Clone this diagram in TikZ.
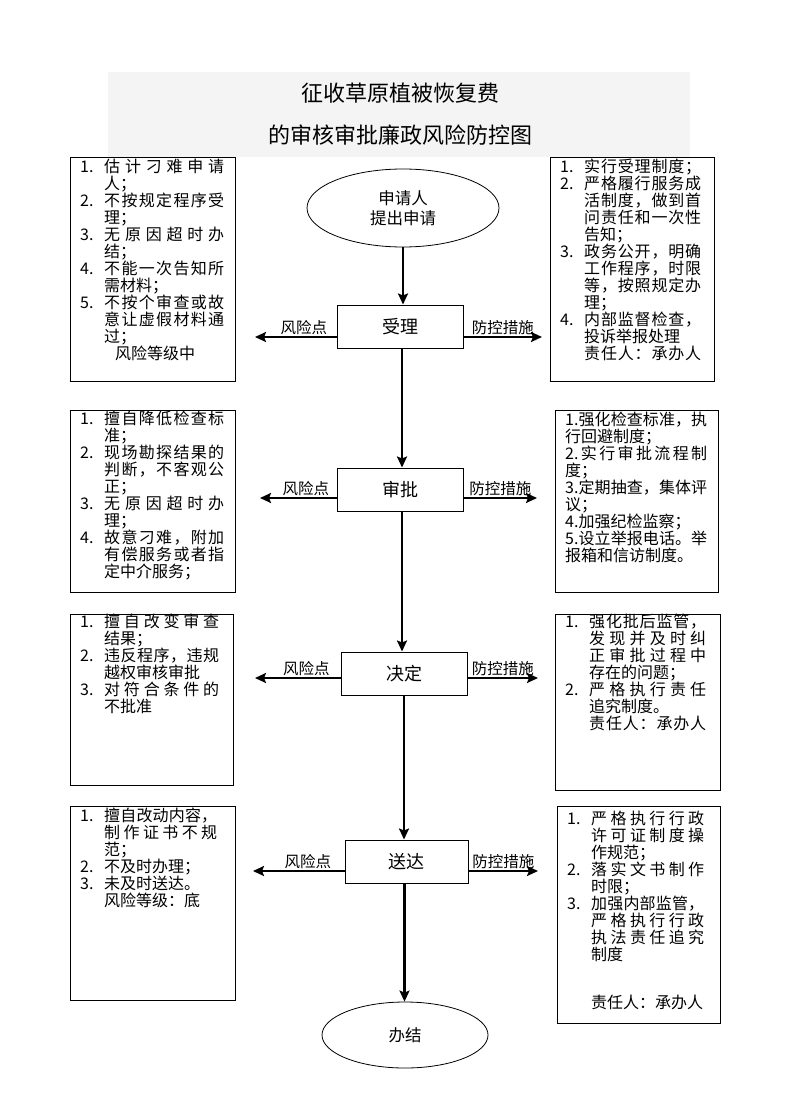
\documentclass[tikz,border=0pt]{standalone}
\usepackage{fontspec}
\setmainfont{Noto Sans CJK SC}
\usetikzlibrary{arrows.meta,shapes.geometric}
\newlength\tw
\newlength\numw
\setlength\numw{24pt}
\def\endspread{ENDSPREAD}
\def\spreadloop#1{\ifx\endspread#1\else#1\hskip0pt plus1fil\relax\expandafter\spreadloop\fi}
\newcommand\J[1]{\hbox to\tw{\spreadloop#1\endspread\unskip}}
\newcommand\N[1]{\makebox[\numw][l]{#1}}
\newcommand\I{\hspace*{\numw}}
\definecolor{bandgray}{HTML}{F4F4F4}
\tikzset{
  txbox/.style={draw, line width=1.3pt, anchor=north west, inner sep=0pt},
  txt/.style={anchor=north west, inner sep=0pt, align=left, font=\fontsize{16}{17}\selectfont},
  procbox/.style={draw, line width=1pt, minimum width=126pt, minimum height=43pt, inner sep=0pt, font=\fontsize{18}{20}\selectfont},
  oval/.style={draw, ellipse, line width=0.8pt, inner sep=0pt, align=center, font=\fontsize{16.5}{20}\selectfont},
  arr/.style={line width=2.2pt, -{Stealth[length=11pt,width=10pt,inset=2pt]}},
  lbl/.style={inner sep=1pt, anchor=south, font=\fontsize{15.5}{17}\selectfont},
  ttl/.style={inner sep=0pt, font=\fontsize{22}{24}\selectfont}
}
\begin{document}
\begin{tikzpicture}[x=1pt,y=-1pt]
\useasboundingbox (0,0) rectangle (794,1115);
% title band
\node[fill=bandgray, anchor=north west, minimum width=582pt, minimum height=85pt, inner sep=0pt] (band) at (108,72) {};
\node[ttl] (t1) at (400,93) {征收草原植被恢复费};
\node[ttl] (t2) at (400,135) {的审核审批廉政风险防控图};

% left boxes
\node[txbox, minimum width=165pt, minimum height=224pt] (L1) at (70,157) {};
\node[txbox, minimum width=165pt, minimum height=182pt] (L2) at (70,410) {};
\node[txbox, minimum width=163pt, minimum height=171pt] (L3) at (70,614) {};
\node[txbox, minimum width=165pt, minimum height=194pt] (L4) at (70,806) {};
% right boxes
\node[txbox, minimum width=164pt, minimum height=224pt] (R1) at (550,157) {};
\node[txbox, minimum width=163pt, minimum height=182pt] (R2) at (555,410) {};
\node[txbox, minimum width=165pt, minimum height=176pt] (R3) at (555,614) {};
\node[txbox, minimum width=163pt, minimum height=217pt] (R4) at (557,806) {};

% left texts
\node[txt, font={\fontsize{16}{17}\selectfont\setlength\tw{120pt}}] (L1t) at (80,159) {%
\N{1.}\J{估计刁难申请}\\
\I 人；\\
\N{2.}\J{不按规定程序受}\\
\I 理；\\
\N{3.}\J{无原因超时办}\\
\I 结；\\
\N{4.}\J{不能一次告知所}\\
\I 需材料；\\
\N{5.}\J{不按个审查或故}\\
\I\J{意让虚假材料通}\\
\I 过；\\
\hspace*{35pt}风险等级中};

\node[txt, font={\fontsize{16}{17}\selectfont\setlength\tw{120pt}}] (L2t) at (80,411) {%
\N{1.}\J{擅自降低检查标}\\
\I 准；\\
\N{2.}\J{现场勘探结果的}\\
\I\J{判断，不客观公}\\
\I 正；\\
\N{3.}\J{无原因超时办}\\
\I 理；\\
\N{4.}\J{故意刁难，附加}\\
\I\J{有偿服务或者指}\\
\I 定中介服务；};

\node[txt, font={\fontsize{16}{17}\selectfont\setlength\tw{115pt}}] (L3t) at (80,614) {%
\N{1.}\J{擅自改变审查}\\
\I 结果；\\
\N{2.}\J{违反程序，违规}\\
\I 越权审核审批\\
\N{3.}\J{对符合条件的}\\
\I 不批准};

\node[txt, font={\fontsize{16}{17}\selectfont\setlength\tw{113pt}}] (L4t) at (80,808) {%
\N{1.}\J{擅自改动内容，}\\
\I\J{制作证书不规}\\
\I 范；\\
\N{2.}不及时办理；\\
\N{3.}未及时送达。\\
\I 风险等级：底};

% right texts
\node[txt, font={\fontsize{16}{17}\selectfont\setlength\tw{117pt}}] (R1t) at (560,159) {%
\N{1.}\J{实行受理制度；}\\
\N{2.}\J{严格履行服务成}\\
\I\J{活制度，做到首}\\
\I\J{问责任和一次性}\\
\I 告知；\\
\N{3.}\J{政务公开，明确}\\
\I\J{工作程序，时限}\\
\I\J{等，按照规定办}\\
\I 理；\\
\N{4.}\J{内部监督检查，}\\
\I 投诉举报处理\\
\I\J{责任人：承办人}};

\node[txt, font={\fontsize{16}{17}\selectfont\setlength\tw{142pt}}] (R2t) at (565,412) {%
\J{{1.}强化检查标准，执}\\
行回避制度；\\
\J{{2.}实行审批流程制}\\
度；\\
\J{{3.}定期抽查，集体评}\\
议；\\
4.加强纪检监察；\\
\J{{5.}设立举报电话。举}\\
报箱和信访制度。};

\node[txt, font={\fontsize{16}{17}\selectfont\setlength\tw{117pt}}] (R3t) at (565,614) {%
\N{1.}\J{强化批后监管，}\\
\I\J{发现并及时纠}\\
\I\J{正审批过程中}\\
\I 存在的问题；\\
\N{2.}\J{严格执行责任}\\
\I 追究制度。\\
\I\J{责任人：承办人}};

\node[txt, font={\fontsize{16}{17}\selectfont\setlength\tw{113pt}}] (R4t) at (567,811) {%
\N{1.}\J{严格执行行政}\\
\I\J{许可证制度操}\\
\I 作规范；\\
\N{2.}\J{落实文书制作}\\
\I 时限；\\
\N{3.}\J{加强内部监管，}\\
\I\J{严格执行行政}\\
\I\J{执法责任追究}\\
\I 制度};
\node[txt, anchor=west] (R4r) at (591,1002) {责任人：承办人};

% center flow
\node[oval, minimum width=192pt, minimum height=78pt] (start) at (403,208) {申请人\\提出申请};
\node[procbox] (shouli) at (400,326.5) {受理};
\node[procbox] (shenpi) at (400,489.5) {审批};
\node[procbox] (jueding) at (404,673.5) {决定};
\node[procbox, minimum width=123pt] (songda) at (406.5,861.5) {送达};
\node[oval, minimum width=166pt, minimum height=66pt] (end) at (405,1035) {办结};

\draw[arr] (start.south) -- (start.south |- shouli.north);
\draw[arr] ([xshift=2pt]shouli.south) -- ([xshift=2pt]shouli.south |- shenpi.north);
\draw[arr] ([xshift=2pt]shenpi.south) -- ([xshift=2pt]shenpi.south |- jueding.north);
\draw[arr] (jueding.south) -- (jueding.south |- songda.north);
\draw[arr] ([xshift=-2pt]songda.south) -- ([xshift=-2pt]songda.south |- end.north);

% side arrows
\coordinate (a1l) at (255,337);
\coordinate (a1r) at (542,337);
\coordinate (a2l) at (260,498);
\coordinate (a2r) at (537,498);
\coordinate (a3l) at (255,678);
\coordinate (a3r) at (538,678);
\coordinate (a4l) at (253,871);
\coordinate (a4r) at (538,871);

\draw[arr] (shouli.west |- a1l) -- (a1l) node[lbl, pos=0.4] (k1) {风险点};
\draw[arr] (shouli.east |- a1r) -- (a1r) node[lbl, pos=0.5] (f1) {防控措施};
\draw[arr] (shenpi.west |- a2l) -- (a2l) node[lbl, pos=0.4] (k2) {风险点};
\draw[arr] (shenpi.east |- a2r) -- (a2r) node[lbl, pos=0.5] (f2) {防控措施};
\draw[arr] (jueding.west |- a3l) -- (a3l) node[lbl, pos=0.4] (k3) {风险点};
\draw[arr] (jueding.east |- a3r) -- (a3r) node[lbl, pos=0.5] (f3) {防控措施};
\draw[arr] (songda.west |- a4l) -- (a4l) node[lbl, pos=0.4] (k4) {风险点};
\draw[arr] (songda.east |- a4r) -- (a4r) node[lbl, pos=0.5] (f4) {防控措施};
\end{tikzpicture}
\end{document}
